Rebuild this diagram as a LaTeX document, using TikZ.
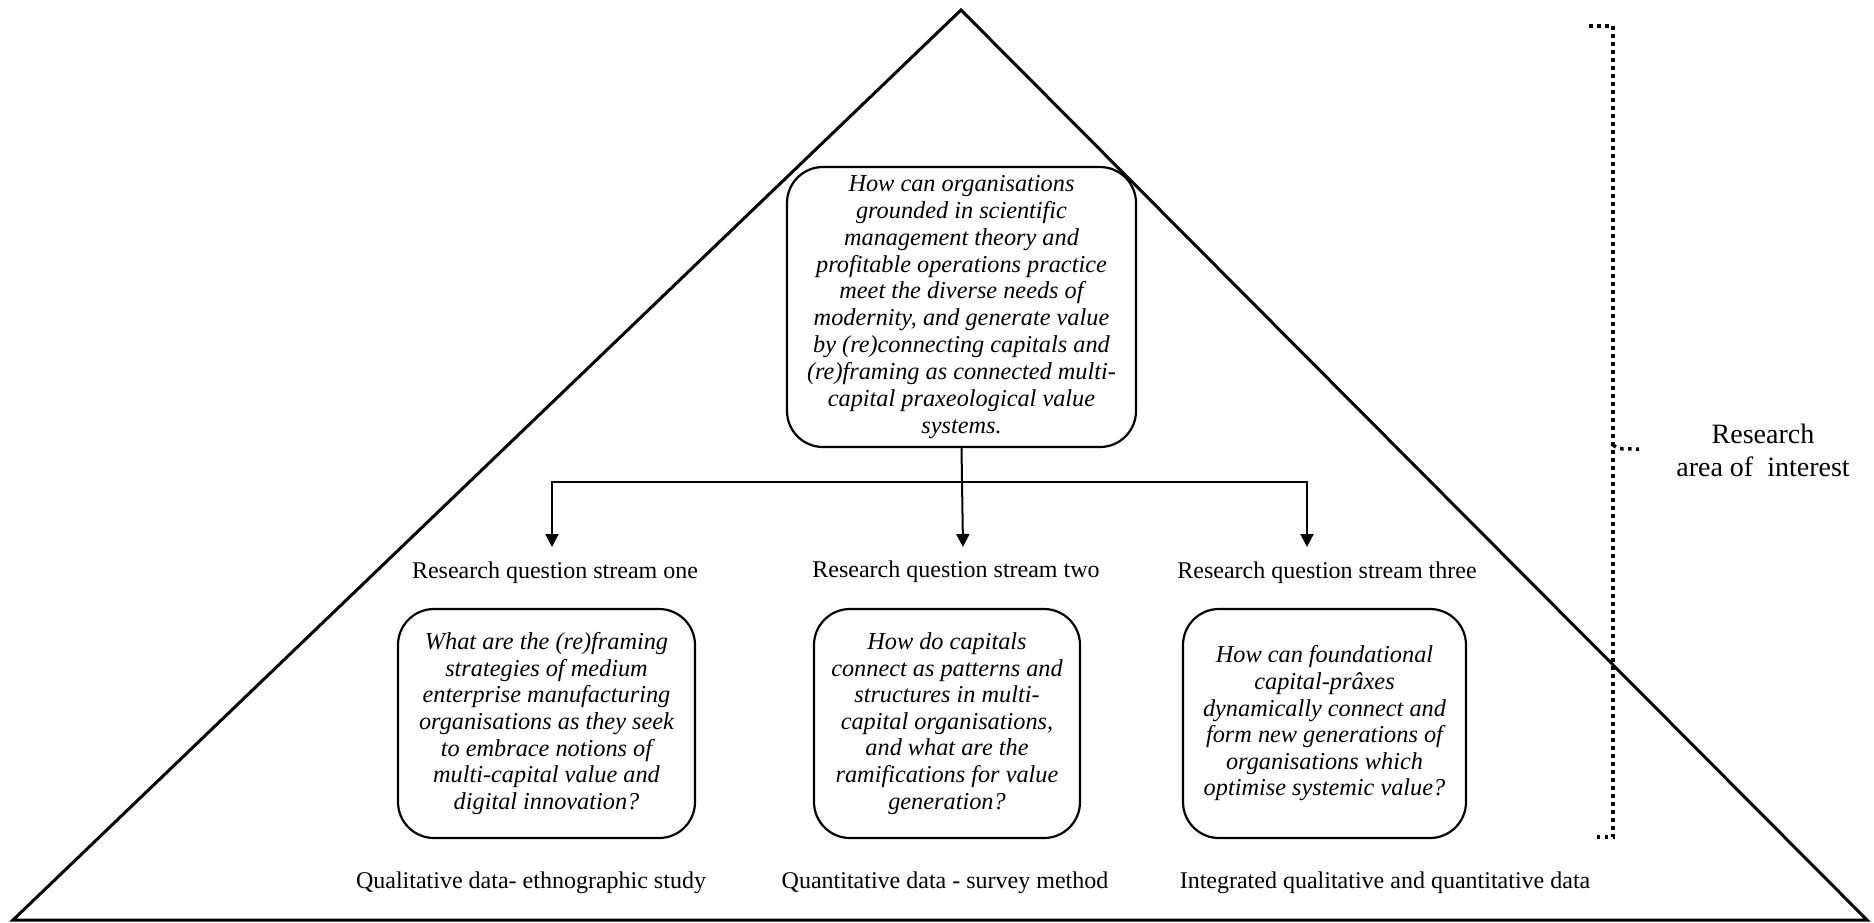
\documentclass[tikz,border=0pt]{standalone}
\usepackage{fontspec}
\setmainfont{Liberation Serif}
\usetikzlibrary{arrows.meta}
\tikzset{
  qbox/.style={draw, line width=2.2pt, rounded corners=36pt, inner sep=0pt, align=center,
    font=\fontsize{24.3}{26.6}\selectfont\itshape},
  lbl/.style={inner sep=0pt, font=\fontsize{24}{28}\selectfont},
  conn/.style={line width=2pt, -{Triangle[width=13pt,length=13pt]}},
  tri/.style={line width=3pt, line join=miter},
  brace/.style={line width=3.5pt, dash pattern=on 3.5pt off 4.5pt}
}
\begin{document}
\begin{tikzpicture}[x=1pt,y=-1pt]
\useasboundingbox (0,0) rectangle (1874,922);
% pyramid
\draw[tri] (13,920) -- (961,10) -- (1867,920) -- cycle;
% top question
\node[qbox, minimum width=349pt, minimum height=280pt,
  font=\fontsize{24.3}{26.9}\selectfont\itshape] (top) at (961.5,307)
 {How can organisations\\ grounded in scientific\\ management theory and\\ profitable operations practice\\ meet the diverse needs of\\ modernity, and generate value\\ by (re)connecting capitals and\\ (re)framing as connected multi-\\ capital praxeological value\\ systems.};
% stream boxes
\node[qbox, minimum width=297pt, minimum height=229pt] (b1) at (546.5,723.5)
 {What are the (re)framing\\ strategies of medium\\ enterprise manufacturing\\ organisations as they seek\\ to embrace notions of\\ multi-capital value and\\ digital innovation?};
\node[qbox, minimum width=266pt, minimum height=229pt] (b2) at (947,723.5)
 {How do capitals\\ connect as patterns and\\ structures in multi-\\ capital organisations,\\ and what are the\\ ramifications for value\\ generation?};
\node[qbox, minimum width=283pt, minimum height=229pt] (b3) at (1324.5,723.5)
 {How can foundational\\ capital-prâxes\\ dynamically connect and\\ form new generations of\\ organisations which\\ optimise systemic value?};
% stream labels
\node[lbl] (s1) at (555,573) {Research question stream one};
\node[lbl] (s2) at (956,572) {Research question stream two};
\node[lbl] (s3) at (1327,573) {Research question stream three};
% method labels
\node[lbl] (m1) at (531,883) {Qualitative data- ethnographic study};
\node[lbl] (m2) at (945,883) {Quantitative data - survey method};
\node[lbl] (m3) at (1385,883) {Integrated qualitative and quantitative data};
% connectors
\coordinate (j) at (962,482);
\coordinate (t1) at (552,547);
\coordinate (t2) at (963,547);
\coordinate (t3) at (1307,547);
\draw[conn] (top.south) -- (t2);
\draw[conn] (j) -| (t1);
\draw[conn] (j) -| (t3);
% brace
\draw[brace] (1589,26) -- (1613,26) -- (1613,837) -- (1593,837);
\draw[brace] (1613,445) .. controls (1618,449) .. (1639,449);
\node[lbl, font=\fontsize{28}{33}\selectfont, align=center] (area) at (1763,450) {Research\\ area of \ interest};
\end{tikzpicture}
\end{document}
